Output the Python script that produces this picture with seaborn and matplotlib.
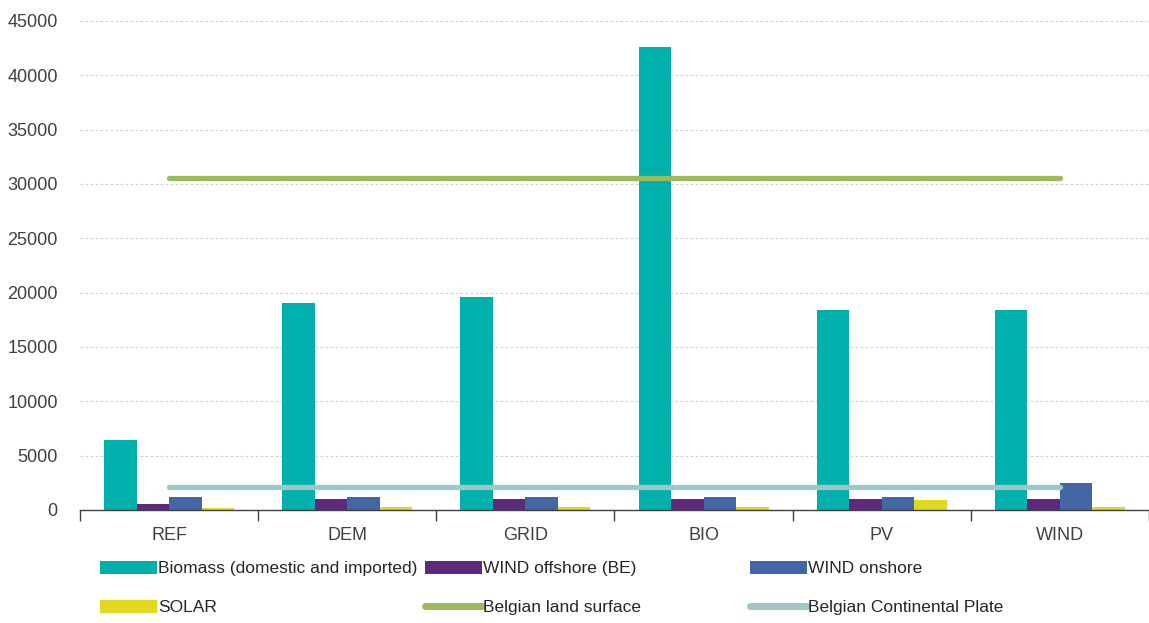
import numpy as np
import pandas as pd
import matplotlib
matplotlib.use("Agg")
import matplotlib.pyplot as plt
import seaborn as sns
from matplotlib.patches import Patch
from matplotlib.lines import Line2D

# Data
scenarios = ["REF", "DEM", "GRID", "BIO", "PV", "WIND"]
biomass = [6400, 19000, 19600, 42600, 18400, 18400]
wind_offshore = [550, 1000, 1000, 1000, 1000, 1000]
wind_onshore = [1150, 1150, 1150, 1150, 1150, 2450]
solar = [200, 320, 320, 320, 900, 300]
land_surface = [30528, 30528, 30528, 30528, 30528, 30528]
continental_plate = [2100, 2100, 2100, 2100, 2100, 2100]

series_names = ["Biomass (domestic and imported)", "WIND offshore (BE)", "WIND onshore", "SOLAR"]
line_names = ["Belgian land surface", "Belgian Continental Plate"]
bar_colors = ["#00B0AD", "#5E2A7E", "#4366A4", "#E1D91F"]
line_colors = ["#9BBB59", "#9FC7C8"]

df = pd.DataFrame({
    "scenario": scenarios * 4,
    "series": np.repeat(series_names, len(scenarios)),
    "value": biomass + wind_offshore + wind_onshore + solar,
})

sns.set_style("white")
plt.rcParams["font.family"] = ["Liberation Sans", "DejaVu Sans"]

fig = plt.figure(figsize=(11.49, 6.23), dpi=100)
ax = fig.add_axes([0.0696, 0.1814, 0.9304, 0.785])

sns.barplot(data=df, x="scenario", y="value", hue="series", order=scenarios,
            hue_order=series_names, palette=bar_colors, width=0.73,
            saturation=1, edgecolor="none", linewidth=0, ax=ax, legend=False)

x = np.arange(len(scenarios))
sns.lineplot(x=x, y=land_surface, color=line_colors[0], linewidth=3.8, ax=ax,
             solid_capstyle="round")
sns.lineplot(x=x, y=continental_plate, color=line_colors[1], linewidth=3.8, ax=ax,
             solid_capstyle="round")

ax.set_xlim(-0.5, len(scenarios) - 0.5)
ax.set_ylim(0, 45000)
ax.set_yticks(np.arange(0, 45001, 5000))
ax.yaxis.grid(True, linestyle=(0, (2.5, 2)), color="#D0D0D0", linewidth=0.8)
ax.set_axisbelow(True)
for s in ["top", "right", "left"]:
    ax.spines[s].set_visible(False)
ax.spines["bottom"].set_color("#404040")
ax.spines["bottom"].set_linewidth(1.0)

# category labels centred, tick marks between categories
ax.set_xticks(x)
ax.set_xticks(np.arange(-0.5, len(scenarios)), minor=True)
ax.tick_params(axis="x", which="major", bottom=False, length=0, pad=12,
               labelsize=13, colors="#404040")
ax.tick_params(axis="x", which="minor", bottom=True, length=8, width=1,
               color="#404040", direction="out")
ax.tick_params(axis="y", length=0, pad=16, labelsize=13, colors="#404040")
ax.set_xlabel("")
ax.set_ylabel("")

# legend: three equally spaced columns under the plot
handles = [Patch(facecolor=c, edgecolor="none") for c in bar_colors]
handles += [Line2D([0], [0], color=c, linewidth=5, solid_capstyle="round") for c in line_colors]
labels = series_names + line_names
columns = [(0, 3), (1, 4), (2, 5)]
x_starts = [100, 425, 750]
for (i, j), xs in zip(columns, x_starts):
    leg = fig.legend([handles[i], handles[j]], [labels[i], labels[j]],
                     loc="upper left", bbox_to_anchor=(xs / 1149, 1 - 561 / 623),
                     frameon=False, fontsize=12.5, handlelength=3.3, handleheight=0.75,
                     handletextpad=0.05, labelspacing=1.35, borderaxespad=0,
                     borderpad=0)
    for t in leg.get_texts():
        t.set_color("#262626")

fig.savefig("out.png", dpi=100)
